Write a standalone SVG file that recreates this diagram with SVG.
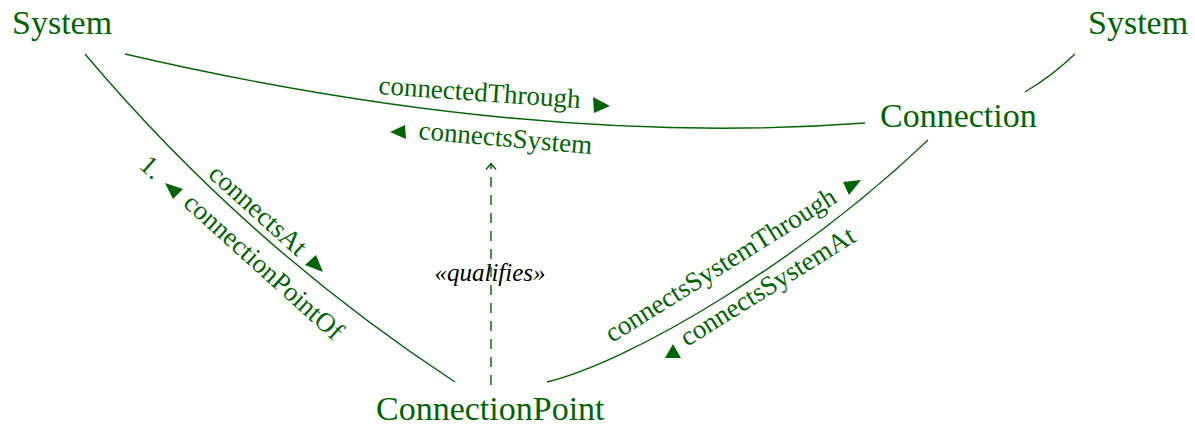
<svg xmlns="http://www.w3.org/2000/svg" width="1195" height="425" viewBox="0 0 1195 425">
<style>
.node{font-family:"Liberation Serif","Times New Roman",serif;font-size:34px;fill:#006400}
.lbl{font-family:"Liberation Serif","Times New Roman",serif;font-size:27px;fill:#006400}
.stereo{font-family:"Liberation Serif","Times New Roman",serif;font-size:25px;font-style:italic;fill:#000}
.edge{fill:none;stroke:#006400;stroke-width:1.4}
.dep{fill:none;stroke:#006400;stroke-width:1.4;stroke-dasharray:10 8}
.tri{fill:#006400}
</style>
<defs>
<marker id="open" viewBox="0 0 12 12" refX="11" refY="6" markerWidth="12" markerHeight="12" markerUnits="userSpaceOnUse" orient="auto">
<path d="M5,1 L11,6 L5,11" fill="none" stroke="#006400" stroke-width="1.4"/>
</marker>
</defs>
<rect width="1195" height="425" fill="#fff"/>
<g id="connectors">
<path class="edge" d="M85,54 Q246,245 455,382"/>
<path class="edge" d="M125,54 Q530,148 865,123"/>
<path class="edge" d="M1025,92 Q1052,76 1075,54"/>
<path class="edge" d="M547,382 C630,362 800,262 928,140"/>
<path class="dep" d="M491,385 L491,163.5" marker-end="url(#open)"/>
<text class="lbl" x="0" y="0" transform="translate(378,94) rotate(4)">connectedThrough</text>
<polygon class="tri" points="593,97 594,113 610,106"/>
<polygon class="tri" points="390,132 405,125 406,139"/>
<text class="lbl" x="0" y="0" transform="translate(418,139) rotate(5)">connectsSystem</text>
<text class="lbl" x="0" y="0" transform="translate(207,176) rotate(42)">connectsAt</text>
<polygon class="tri" points="305,265 316,255 323,272"/>
<text class="lbl" x="0" y="0" transform="translate(138,167) rotate(42)">1.</text>
<polygon class="tri" points="165,183 183,189 173,199"/>
<text class="lbl" x="0" y="0" transform="translate(182,205) rotate(42)">connectionPointOf</text>
<text class="lbl" x="0" y="0" transform="translate(612,343) rotate(-32)">connectsSystemThrough</text>
<polygon class="tri" points="843,182 861,180 849,195"/>
<polygon class="tri" points="673,344 665,358 681,358"/>
<text class="lbl" x="0" y="0" transform="translate(687,347) rotate(-32)">connectsSystemAt</text>
<text class="stereo" x="490" y="281" text-anchor="middle">«qualifies»</text>
</g>
<g id="system1"><text class="node" x="12" y="34">System</text></g>
<g id="system2"><text class="node" x="1088" y="34">System</text></g>
<g id="connection"><text class="node" x="880" y="127">Connection</text></g>
<g id="connectionPoint"><text class="node" x="376" y="420">ConnectionPoint</text></g>
</svg>
